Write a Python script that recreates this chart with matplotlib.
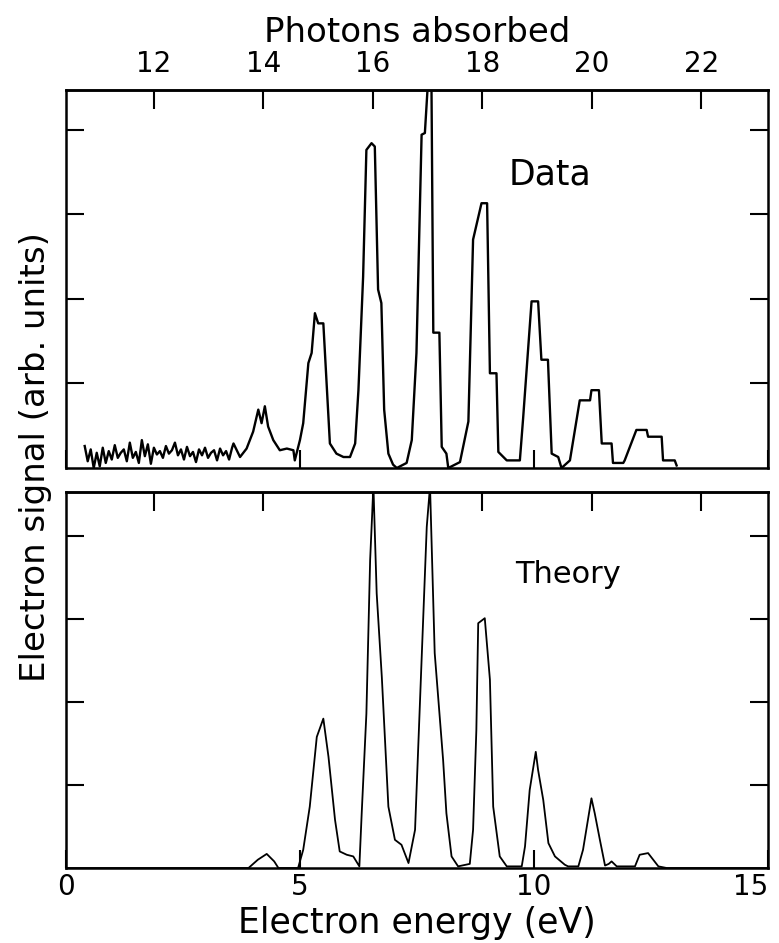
import numpy as np
import matplotlib
matplotlib.use("Agg")
import matplotlib.pyplot as plt

plt.rcParams['font.family'] = ['DejaVu Sans']

# photon number <-> electron energy (eV) for the top scale
photon_e = 1.17
e_at_12 = 1.88

# measured spectrum: noisy low-energy part (evenly sampled) ...
noise_e0, noise_e1 = 0.40, 3.55
noise_vals = [0.26, 0.08, 0.22, 0.00, 0.18, 0.02, 0.24, 0.06, 0.20, 0.10,
              0.27, 0.12, 0.18, 0.22, 0.08, 0.30, 0.12, 0.19, 0.06, 0.33,
              0.14, 0.28, 0.05, 0.24, 0.16, 0.20, 0.12, 0.26, 0.17, 0.21,
              0.30, 0.15, 0.22, 0.10, 0.25, 0.14, 0.19, 0.07, 0.22, 0.15,
              0.24, 0.12, 0.18, 0.21, 0.09, 0.23, 0.15, 0.20, 0.10, 0.24]
# ... then the peak region
data_e = [3.58, 3.72, 3.86, 4.00, 4.11, 4.18, 4.25, 4.32, 4.43, 4.57,
          4.72, 4.86, 4.89, 5.00, 5.07, 5.18, 5.25, 5.32, 5.39, 5.50,
          5.57, 5.64, 5.78, 5.93, 6.07, 6.18, 6.25, 6.35, 6.42, 6.53,
          6.60, 6.67, 6.74, 6.80, 6.89, 6.99, 7.07, 7.28, 7.39, 7.49,
          7.60, 7.67, 7.74, 7.81, 7.85, 7.98, 8.03, 8.13, 8.17, 8.42,
          8.60, 8.70, 8.88, 9.00, 9.06, 9.20, 9.24, 9.42, 9.70, 9.77,
          9.95, 10.09, 10.16, 10.30, 10.38, 10.52, 10.59, 10.77, 10.98, 11.20,
          11.23, 11.39, 11.45, 11.66, 11.69, 11.91, 11.94, 12.19, 12.41, 12.44,
          12.73, 12.76, 13.01, 13.05]
data_s = [0.29, 0.13, 0.23, 0.43, 0.69, 0.53, 0.73, 0.49, 0.33, 0.21,
          0.23, 0.21, 0.09, 0.33, 0.53, 1.24, 1.36, 1.83, 1.71, 1.71,
          1.00, 0.29, 0.17, 0.13, 0.13, 0.29, 0.92, 2.26, 3.76, 3.84,
          3.80, 2.11, 1.95, 0.69, 0.17, 0.04, 0.00, 0.06, 0.33, 1.36,
          3.94, 3.96, 4.60, 4.60, 1.60, 1.60, 0.25, 0.17, 0.00, 0.07,
          0.55, 2.70, 3.13, 3.13, 1.12, 1.12, 0.19, 0.09, 0.09, 0.59,
          1.97, 1.97, 1.28, 1.28, 0.17, 0.13, 0.00, 0.09, 0.80, 0.80,
          0.92, 0.92, 0.29, 0.29, 0.06, 0.06, 0.09, 0.45, 0.45, 0.37,
          0.37, 0.09, 0.09, 0.03]

# calculated spectrum
theory_e = [0.00, 3.90, 4.10, 4.29, 4.45, 4.54, 4.96, 5.07, 5.21, 5.36,
            5.50, 5.61, 5.75, 5.85, 6.00, 6.14, 6.27, 6.32, 6.42, 6.50,
            6.57, 6.64, 6.75, 6.89, 7.03, 7.17, 7.32, 7.46, 7.60, 7.71,
            7.78, 7.88, 8.06, 8.13, 8.24, 8.38, 8.63, 8.70, 8.77, 8.81,
            8.95, 9.06, 9.13, 9.27, 9.42, 9.74, 9.81, 9.91, 10.04, 10.09,
            10.20, 10.31, 10.45, 10.66, 10.73, 10.95, 11.05, 11.23, 11.30, 11.41,
            11.52, 11.60, 11.66, 11.77, 12.16, 12.26, 12.44, 12.66, 12.84, 15.00]
theory_s = [0.00, 0.00, 0.10, 0.17, 0.08, 0.00, 0.00, 0.22, 0.74, 1.58,
            1.80, 1.34, 0.58, 0.20, 0.16, 0.14, 0.02, 0.66, 1.86, 3.71,
            4.60, 3.31, 2.30, 0.74, 0.34, 0.28, 0.06, 0.46, 2.51, 4.11,
            4.60, 2.59, 1.30, 0.66, 0.14, 0.02, 0.05, 0.46, 1.66, 2.95,
            3.01, 2.27, 0.74, 0.14, 0.02, 0.02, 0.26, 0.94, 1.40, 1.18,
            0.82, 0.30, 0.14, 0.04, 0.02, 0.02, 0.22, 0.84, 0.66, 0.34,
            0.03, 0.05, 0.08, 0.02, 0.02, 0.16, 0.18, 0.02, 0.00, 0.00]

e_ticks = [0, 5, 10, 15]
photon_ticks = [12, 14, 16, 18, 20, 22]
y_ticks = [1, 2, 3, 4]


def e2n(e):
    return 12 + (np.asarray(e) - e_at_12) / photon_e


def n2e(n):
    return e_at_12 + (np.asarray(n) - 12) * photon_e


fig = plt.figure(figsize=(7.79, 9.43), dpi=100)
ax1 = fig.add_axes([0.0847, 0.5037, 0.901, 0.401])
ax2 = fig.add_axes([0.0847, 0.0795, 0.901, 0.3987])

noise_e = np.linspace(noise_e0, noise_e1, len(noise_vals))
ax1.plot(list(noise_e) + data_e, noise_vals + data_s, color='black', lw=1.7)
ax2.plot(theory_e, theory_s, color='black', lw=1.3)

for ax, top in [(ax1, 4.47), (ax2, 4.53)]:
    ax.set_xlim(0, 15)
    ax.set_ylim(0, top)
    ax.set_xticks(e_ticks)
    ax.set_yticks(y_ticks)
    ax.tick_params(axis='both', direction='in', length=13, width=1.5,
                   left=True, right=True, labelleft=False, labelsize=20)
    ax.tick_params(axis='x', pad=3.5)
    for sp in ax.spines.values():
        sp.set_linewidth(1.8)
    sec = ax.secondary_xaxis('top', functions=(e2n, n2e))
    sec.set_xticks(photon_ticks)
    sec.tick_params(direction='in', length=14, width=1.5, labelsize=20,
                    pad=8.5)
    sec.spines['top'].set_linewidth(1.8)
    if ax is ax1:
        sec.set_xlabel('Photons absorbed', fontsize=24.5, labelpad=6)
    else:
        sec.set_xticklabels([])

ax1.tick_params(labelbottom=False)
ax2.set_xlabel('Electron energy (eV)', fontsize=25, labelpad=4)
last = ax2.get_xticklabels()[-1]
last.set_horizontalalignment('right')
last.set_x(15.05)

ax1.text(0.689, 0.775, 'Data', fontsize=25, ha='center', va='center',
         transform=ax1.transAxes)
ax2.text(0.715, 0.78, 'Theory', fontsize=22, ha='center', va='center',
         transform=ax2.transAxes)
fig.text(0.045, 0.515, 'Electron signal (arb. units)', fontsize=24.5,
         rotation=90, ha='center', va='center')

fig.savefig('out.png', dpi=100)
